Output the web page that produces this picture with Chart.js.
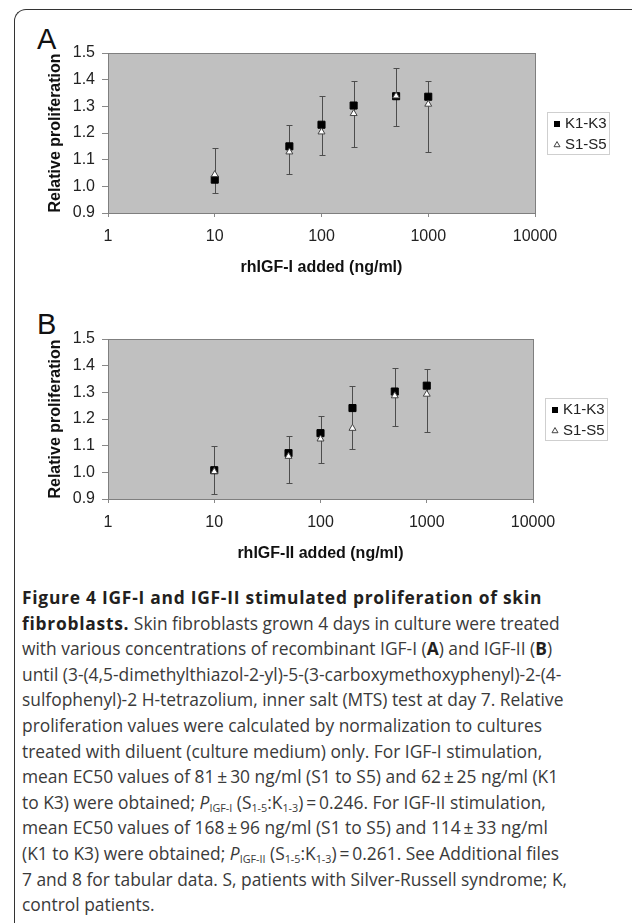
<!DOCTYPE html>
<html>
<head>
<meta charset="utf-8">
<script src="https://cdn.jsdelivr.net/npm/chart.js@4.4.1/dist/chart.umd.min.js"></script>
<style>
body{margin:0;background:#fff;width:632px;height:923px;overflow:hidden;position:relative;font-family:"Liberation Sans",Arial,sans-serif}
.frame{position:absolute;left:14px;top:9px;width:660px;height:960px;border-left:1.5px solid #333;border-top:1.5px solid #333;border-top-left-radius:12px}
.panel{position:absolute;left:0;width:632px;height:280px}
.tag{position:absolute;left:37px;font-size:29px;line-height:30px;color:#111}
.caption{position:absolute;left:22px;top:585px;font-family:"Open Sans",sans-serif;font-size:17.4px;line-height:25.6px;color:#3a3a3a}
.caption div{white-space:nowrap}
.caption b{color:#231f20;font-weight:700}
.caption b.head{letter-spacing:0.75px}
.caption sub{font-size:0.62em;line-height:0;vertical-align:-0.3em}
</style>
</head>
<body>
<div class="frame"></div>
<div class="tag" style="top:24px">A</div>
<canvas id="chartA" class="panel" style="top:0" width="632" height="280"></canvas>
<div class="tag" style="top:309px">B</div>
<canvas id="chartB" class="panel" style="top:286px" width="632" height="280"></canvas>

<div class="caption">
<div><b class="head">Figure 4 IGF-I and IGF-II stimulated proliferation of skin</b></div>
<div><b class="head">fibroblasts.</b> Skin fibroblasts grown 4 days in culture were treated</div>
<div>with various concentrations of recombinant IGF-I (<b>A</b>) and IGF-II (<b>B</b>)</div>
<div>until (3-(4,5-dimethylthiazol-2-yl)-5-(3-carboxymethoxyphenyl)-2-(4-</div>
<div>sulfophenyl)-2 H-tetrazolium, inner salt (MTS) test at day 7. Relative</div>
<div>proliferation values were calculated by normalization to cultures</div>
<div>treated with diluent (culture medium) only. For IGF-I stimulation,</div>
<div>mean EC50 values of 81&thinsp;±&thinsp;30 ng/ml (S1 to S5) and 62&thinsp;±&thinsp;25 ng/ml (K1</div>
<div>to K3) were obtained; <i>P</i><sub>IGF-I</sub> (S<sub>1-5</sub>:K<sub>1-3</sub>)&thinsp;=&thinsp;0.246. For IGF-II stimulation,</div>
<div>mean EC50 values of 168&thinsp;±&thinsp;96 ng/ml (S1 to S5) and 114&thinsp;±&thinsp;33 ng/ml</div>
<div>(K1 to K3) were obtained; <i>P</i><sub>IGF-II</sub> (S<sub>1-5</sub>:K<sub>1-3</sub>)&thinsp;=&thinsp;0.261. See Additional files</div>
<div>7 and 8 for tabular data. S, patients with Silver-Russell syndrome; K,</div>
<div>control patients.</div>
</div>

<script>
// doses (ng/ml) and readings taken off the figure
var doses = [10, 50, 100, 200, 500, 1000];
var xTicks = [1, 10, 100, 1000, 10000];
var yTicks = [0.9, 1.0, 1.1, 1.2, 1.3, 1.4, 1.5];
var seriesNames = ['K1-K3', 'S1-S5'];

var igf1K = [1.025, 1.150, 1.231, 1.303, 1.338, 1.336];
var igf1S = [1.044, 1.129, 1.204, 1.273, 1.339, 1.308];
var igf1Low = [0.975, 1.047, 1.119, 1.149, 1.225, 1.129];
var igf1High = [1.144, 1.229, 1.338, 1.396, 1.443, 1.396];

var igf2K = [1.008, 1.072, 1.147, 1.241, 1.303, 1.325];
var igf2S = [1.003, 1.060, 1.125, 1.165, 1.287, 1.293];
var igf2Low = [0.920, 0.960, 1.035, 1.089, 1.175, 1.150];
var igf2High = [1.097, 1.135, 1.213, 1.322, 1.390, 1.388];

var fontFamily = '"Liberation Sans", Arial, sans-serif';

function drawSquare(c, x, y, s) {
    c.fillStyle = '#000';
    c.fillRect(x - s / 2, y - s / 2, s, s);
}
function drawTriangle(c, x, y, s) {
    var h = s * Math.sqrt(3) / 2;
    c.beginPath();
    c.moveTo(x, y - h * 2 / 3);
    c.lineTo(x + s / 2, y + h / 3);
    c.lineTo(x - s / 2, y + h / 3);
    c.closePath();
    c.fillStyle = '#fff';
    c.fill();
    c.strokeStyle = '#444';
    c.lineWidth = 1;
    c.stroke();
}

// grey plot area, frame and boxed legend
var plotBox = {
    id: 'plotBox',
    beforeDraw: function(chart) {
        var a = chart.chartArea, c = chart.ctx;
        c.save();
        c.fillStyle = '#c0c0c0';
        c.fillRect(a.left, a.top, a.right - a.left, a.bottom - a.top);
        c.restore();
    },
    afterDraw: function(chart) {
        var a = chart.chartArea, c = chart.ctx;
        c.save();
        c.strokeStyle = '#7f7f7f';
        c.lineWidth = 1;
        c.strokeRect(Math.round(a.left) + 0.5, Math.round(a.top) + 0.5, Math.round(a.right - a.left), Math.round(a.bottom - a.top));

        var lx = a.right + 12, ly = a.top + 59;
        c.fillStyle = '#fff';
        c.fillRect(lx, ly, 62, 42);
        c.strokeStyle = '#cfcfcf';
        c.strokeRect(lx + 0.5, ly + 0.5, 62, 42);
        c.font = '15px ' + fontFamily;
        c.textBaseline = 'middle';
        c.fillStyle = '#222';
        c.fillText(seriesNames[0], lx + 18, ly + 12);
        c.fillText(seriesNames[1], lx + 18, ly + 33);
        drawSquare(c, lx + 10, ly + 12, 6);
        drawTriangle(c, lx + 10, ly + 33, 6);
        c.restore();
    }
};

var errorBars = {
    id: 'errorBars',
    beforeDatasetsDraw: function(chart, args, opts) {
        var xs = chart.scales.x, ys = chart.scales.y, c = chart.ctx;
        c.save();
        c.strokeStyle = '#4d4d4d';
        c.lineWidth = 1;
        for (var i = 0; i < opts.low.length; i++) {
            var px = Math.round(xs.getPixelForValue(doses[i])) + 0.5;
            var y1 = Math.round(ys.getPixelForValue(opts.low[i])) + 0.5;
            var y2 = Math.round(ys.getPixelForValue(opts.high[i])) + 0.5;
            c.beginPath();
            c.moveTo(px, y1); c.lineTo(px, y2);
            c.moveTo(px - 3, y1); c.lineTo(px + 3, y1);
            c.moveTo(px - 3, y2); c.lineTo(px + 3, y2);
            c.stroke();
        }
        c.restore();
    }
};

function makePanel(id, kVals, sVals, low, high, xTitle, padRight) {
    var ctx = document.getElementById(id).getContext('2d');
    return new Chart(ctx, {
        type: 'scatter',
        data: {
            datasets: [{
                label: seriesNames[0],
                data: doses.map(function(d, i) { return {x: d, y: kVals[i]}; }),
                pointStyle: 'rect',
                pointRadius: 5,
                backgroundColor: '#000',
                borderColor: '#000',
                borderWidth: 1,
                order: 1
            }, {
                label: seriesNames[1],
                data: doses.map(function(d, i) { return {x: d, y: sVals[i]}; }),
                pointStyle: 'triangle',
                pointRadius: 4,
                backgroundColor: '#fff',
                borderColor: '#444',
                borderWidth: 1,
                order: 0
            }]
        },
        options: {
            responsive: false,
            animation: false,
            events: [],
            layout: { padding: { left: 0, top: 53, right: padRight, bottom: 0 } },
            plugins: {
                legend: { display: false },
                tooltip: { enabled: false },
                errorBars: { low: low, high: high }
            },
            scales: {
                x: {
                    type: 'logarithmic',
                    min: 1,
                    max: 10000,
                    afterBuildTicks: function(s) { s.ticks = xTicks.map(function(v) { return {value: v}; }); },
                    afterFit: function(s) { s.height = 67; },
                    ticks: {
                        callback: function(v) { return String(v); },
                        color: '#222',
                        font: { size: 16, family: fontFamily },
                        padding: 10,
                        maxRotation: 0,
                        autoSkip: false
                    },
                    grid: { drawOnChartArea: false, drawTicks: true, tickLength: 4, color: '#888' },
                    border: { color: '#888' },
                    title: {
                        display: true,
                        text: xTitle,
                        color: '#111',
                        font: { size: 16, weight: 'bold', family: fontFamily },
                        padding: { top: 0, bottom: 3 }
                    }
                },
                y: {
                    min: 0.9,
                    max: 1.5,
                    afterBuildTicks: function(s) { s.ticks = yTicks.map(function(v) { return {value: v}; }); },
                    afterFit: function(s) { s.width = 108; },
                    ticks: {
                        callback: function(v) { return v.toFixed(1); },
                        color: '#222',
                        font: { size: 16, family: fontFamily },
                        padding: 7
                    },
                    grid: { drawOnChartArea: false, drawTicks: true, tickLength: 6, color: '#888' },
                    border: { color: '#888' },
                    title: {
                        display: true,
                        text: 'Relative proliferation',
                        color: '#111',
                        font: { size: 16, weight: 'bold', family: fontFamily },
                        padding: { top: 46, bottom: 0 }
                    }
                }
            }
        },
        plugins: [plotBox, errorBars]
    });
}

makePanel('chartA', igf1K, igf1S, igf1Low, igf1High, 'rhIGF-I added (ng/ml)', 97);
makePanel('chartB', igf2K, igf2S, igf2Low, igf2High, 'rhIGF-II added (ng/ml)', 99);
</script>
</body>
</html>
